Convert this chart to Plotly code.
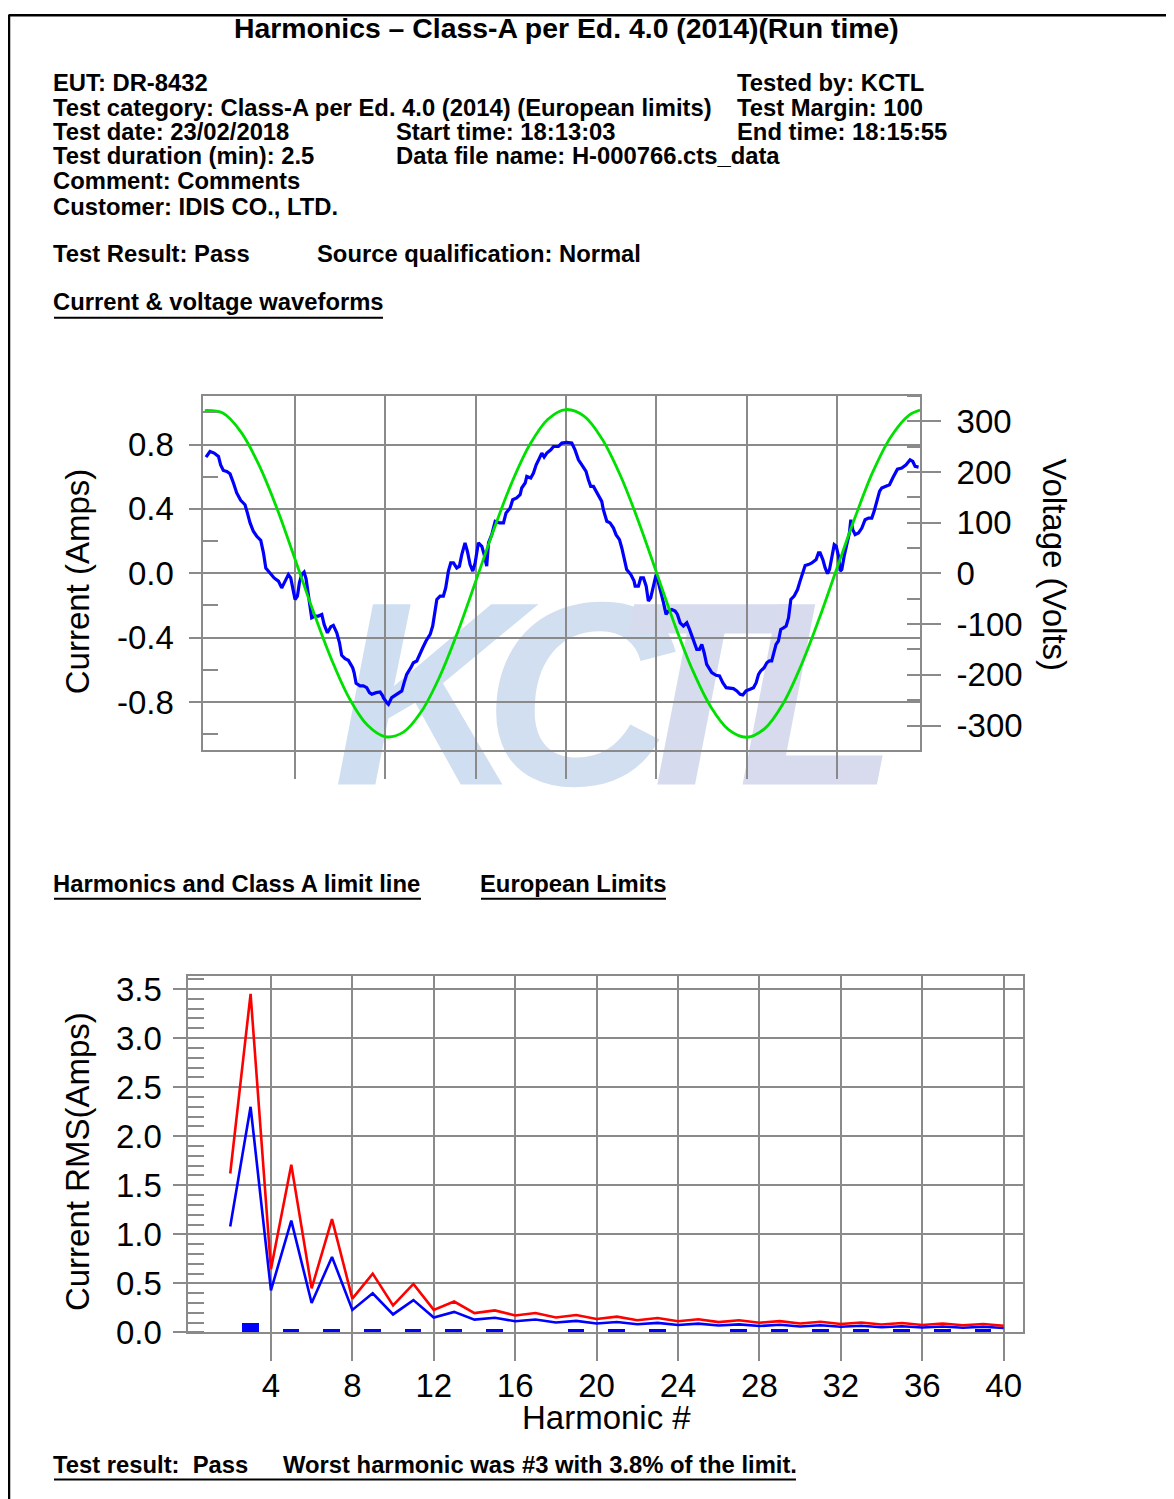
import plotly.graph_objects as go

# Page is 1174x1499. The html body adds an 8px margin; the captured picture shows the
# figure with a small vertical offset/scale, compensated in the helpers below.
PAGE_OFF_X = 8
Y_OFF, Y_SCALE = 11.6, 0.9854
W = 1174 - 2 * PAGE_OFF_X
H = 1510

# ---------------- data: current & voltage waveforms ----------------
current_t_ms = [
    0.07, 0.29, 0.52, 0.76, 0.88, 1.03, 1.22, 1.40, 1.59, 1.77,
    1.99, 2.23, 2.36, 2.51, 2.69, 2.88, 3.10, 3.25, 3.38, 3.62,
    3.84, 4.08, 4.26, 4.45, 4.63, 4.76, 4.91, 5.00, 5.13, 5.24,
    5.37, 5.50, 5.61, 5.79, 5.92, 6.11, 6.29, 6.48, 6.61, 6.79,
    6.98, 7.12, 7.31, 7.46, 7.58, 7.77, 7.95, 8.19, 8.27, 8.38,
    8.60, 8.78, 8.97, 9.12, 9.25, 9.49, 9.71, 9.85,
    9.89, 10.08, 10.17, 10.35, 10.63, 10.91, 11.04, 11.18, 11.41, 11.55,
    11.74, 11.89, 12.07, 12.25, 12.48, 12.62, 12.75, 12.85, 13.03, 13.21,
    13.34, 13.49, 13.62, 13.77, 13.95, 14.10, 14.23, 14.41, 14.54, 14.69,
    14.84, 14.97, 15.15, 15.34, 15.47, 15.61, 15.71, 15.89, 16.08, 16.32,
    16.54, 16.68, 16.91, 17.05, 17.27, 17.46, 17.55, 17.74, 17.83, 18.05,
    18.20, 18.35, 18.53, 18.66, 18.79, 18.94, 19.16, 19.31, 19.58, 19.77,
    20.04, 20.32, 20.50, 20.69, 20.93, 21.11, 21.24, 21.37, 21.52, 21.67,
    21.85, 21.98, 22.07, 22.26, 22.44, 22.63, 22.77, 22.96, 23.09, 23.22,
    23.36, 23.59, 23.77, 23.83, 24.01, 24.14, 24.29, 24.44, 24.56, 24.69,
    24.84, 24.99, 25.12, 25.25, 25.40, 25.54, 25.67, 25.86, 26.04, 26.17,
    26.32, 26.50, 26.69, 26.84, 27.02, 27.24, 27.39, 27.52, 27.65, 27.79,
    28.07, 28.31, 28.50, 28.68, 28.87, 29.09, 29.27, 29.46, 29.64,
    29.79, 29.97, 30.19, 30.38, 30.53, 30.66, 30.78, 30.97, 31.12, 31.26,
    31.39, 31.52, 31.63, 31.76, 31.89, 32.04, 32.19, 32.32, 32.45, 32.63,
    32.82, 32.96, 33.11, 33.24, 33.42, 33.61, 33.85, 33.98, 34.07, 34.22,
    34.35, 34.48, 34.59, 34.72, 34.85, 34.96, 35.09, 35.18, 35.27, 35.40,
    35.55, 35.69, 35.77, 35.88, 36.01, 36.19, 36.38, 36.56, 36.75, 36.93,
    37.06, 37.21, 37.36, 37.48, 37.72, 37.91, 38.09, 38.22, 38.35, 38.59,
    38.83, 39.05, 39.20, 39.33, 39.52,
]
current_amps = [
    0.722, 0.757, 0.747, 0.726, 0.674, 0.639, 0.633, 0.618, 0.561, 0.499,
    0.453, 0.426, 0.375, 0.313, 0.261, 0.230, 0.205, 0.127, 0.033, 0.002,
    -0.029, -0.049, -0.091, -0.049, -0.008, -0.029, -0.122, -0.163, -0.142, -0.060,
    -0.008, 0.007, -0.035, -0.163, -0.277, -0.266, -0.266, -0.256, -0.318, -0.370,
    -0.332, -0.324, -0.370, -0.432, -0.510, -0.531, -0.541, -0.587, -0.618, -0.684,
    -0.700, -0.700, -0.711, -0.742, -0.752, -0.742, -0.738, -0.762,
    -0.773, -0.804, -0.814, -0.773, -0.752, -0.731, -0.680, -0.628, -0.587, -0.556,
    -0.545, -0.504, -0.463, -0.421, -0.380, -0.328, -0.215, -0.163, -0.142, -0.142,
    -0.091, 0.013, 0.064, 0.064, 0.033, 0.044, 0.116, 0.189, 0.137, 0.054,
    0.013, 0.064, 0.189, 0.168, 0.116, 0.044, 0.189, 0.240, 0.323, 0.313,
    0.313, 0.375, 0.406, 0.457, 0.468, 0.488, 0.530, 0.561, 0.602, 0.592,
    0.623, 0.674, 0.716, 0.747, 0.722, 0.747, 0.767, 0.788, 0.788, 0.809,
    0.813, 0.809, 0.767, 0.705, 0.664, 0.633, 0.581, 0.540, 0.540, 0.509,
    0.478, 0.447, 0.395, 0.323, 0.313, 0.281, 0.240, 0.209, 0.157, 0.085,
    0.023, -0.008, -0.049, -0.080, -0.080, -0.029, -0.029, -0.080, -0.173, -0.153,
    -0.080, -0.008, -0.060, -0.111, -0.184, -0.256, -0.235, -0.225, -0.235, -0.256,
    -0.308, -0.328, -0.308, -0.349, -0.401, -0.473, -0.473, -0.442, -0.494, -0.566,
    -0.618, -0.634, -0.638, -0.680, -0.711, -0.717, -0.717, -0.731, -0.752,
    -0.756, -0.731, -0.721, -0.711, -0.680, -0.628, -0.607, -0.587, -0.556, -0.545,
    -0.545, -0.494, -0.442, -0.421, -0.349, -0.339, -0.328, -0.277, -0.163, -0.142,
    -0.101, -0.049, 0.002, 0.048, 0.054, 0.064, 0.085, 0.127, 0.127, 0.085,
    0.033, -0.002, 0.023, 0.106, 0.178, 0.168, 0.106, 0.013, 0.023, 0.106,
    0.189, 0.250, 0.333, 0.271, 0.240, 0.250, 0.281, 0.333, 0.343, 0.343,
    0.385, 0.457, 0.509, 0.530, 0.540, 0.550, 0.592, 0.623, 0.647, 0.654,
    0.674, 0.705, 0.695, 0.664, 0.660,
]
voltage_t_ms = [0, 1, 2, 3, 4, 5, 6, 7, 8, 9, 10, 11, 12, 13, 14, 15, 16, 17, 18, 19,
                20, 21, 22, 23, 24, 25, 26, 27, 28, 29, 30, 31, 32, 33, 34, 35, 36, 37, 38, 39, 39.6]
voltage_volts = [321, 316, 279, 214, 128, 28, -74, -168, -246, -299,
                 -322, -313, -272, -204, -116, -16, 86, 179, 254, 304,
                 323, 310, 265, 194, 104, 3, -99, -190, -262, -308,
                 -323, -306, -258, -183, -91, 10, 110, 201, 270, 312, 322]
wave_time_grid_ms = [5, 10, 15, 20, 25, 30, 35]
current_tick_vals = [-0.8, -0.4, 0.0, 0.4, 0.8]
current_tick_text = ["-0.8", "-0.4", "0.0", "0.4", "0.8"]
voltage_tick_vals = [-300, -200, -100, 0, 100, 200, 300]
voltage_tick_text = ["-300", "-200", "-100", "0", "100", "200", "300"]

# ---------------- data: harmonics ----------------
harmonic_n = [2, 3, 4, 5, 6, 7, 8, 9, 10, 11, 12, 13, 14, 15, 16, 17, 18, 19, 20, 21,
              22, 23, 24, 25, 26, 27, 28, 29, 30, 31, 32, 33, 34, 35, 36, 37, 38, 39, 40]
class_a_limit_amps = [1.08, 2.30, 0.43, 1.14, 0.30, 0.77, 0.23, 0.40, 0.184, 0.33,
                      0.153, 0.21, 0.131, 0.15, 0.115, 0.132, 0.102, 0.118, 0.092, 0.107,
                      0.084, 0.098, 0.077, 0.090, 0.071, 0.083, 0.066, 0.078, 0.061, 0.073,
                      0.058, 0.068, 0.054, 0.064, 0.051, 0.061, 0.048, 0.058, 0.046]
limit_150pct_amps = [1.62, 3.45, 0.645, 1.71, 0.45, 1.155, 0.345, 0.60, 0.276, 0.495,
                     0.23, 0.315, 0.197, 0.225, 0.173, 0.199, 0.153, 0.178, 0.138, 0.161,
                     0.125, 0.147, 0.115, 0.135, 0.106, 0.125, 0.099, 0.116, 0.092, 0.109,
                     0.086, 0.102, 0.081, 0.096, 0.077, 0.091, 0.073, 0.087, 0.069]
measured_n = [3, 5, 7, 9, 11, 13, 15, 19, 21, 23, 27, 29, 31, 33, 35, 37, 39]
measured_amps = [0.095, 0.028, 0.028, 0.028, 0.028, 0.028, 0.028, 0.028, 0.028,
                 0.028, 0.028, 0.028, 0.028, 0.028, 0.028, 0.028, 0.028]
harm_tick_vals = [4, 8, 12, 16, 20, 24, 28, 32, 36, 40]

watermark_letters = ["K", "C", "T", "L"]


# ---------------- helpers (page pixels -> paper) ----------------
def px(x):
    return (x - PAGE_OFF_X) / W


def py(y):
    return 1 - ((y - Y_OFF) / Y_SCALE) / H


GRID = "#8a8a8a"
FONT = "Liberation Sans, Arial, sans-serif"
TICKFONT = dict(family=FONT, size=33, color="black")

fig = go.Figure()

fig.add_trace(go.Scatter(x=current_t_ms, y=current_amps, xaxis="x", yaxis="y",
                         mode="lines", line=dict(color="#0000ff", width=3.2),
                         showlegend=False, hoverinfo="skip"))
fig.add_trace(go.Scatter(x=voltage_t_ms, y=voltage_volts, xaxis="x", yaxis="y2",
                         mode="lines", line=dict(color="#00e000", width=2.8, shape="spline"),
                         showlegend=False, hoverinfo="skip"))

fig.add_trace(go.Bar(x=measured_n, y=measured_amps, xaxis="x2", yaxis="y3",
                     width=0.82, marker=dict(color="#0000ff", line=dict(width=0)),
                     showlegend=False, hoverinfo="skip"))
fig.add_trace(go.Scatter(x=harmonic_n, y=class_a_limit_amps, xaxis="x2", yaxis="y3",
                         mode="lines", line=dict(color="#0000ff", width=2.6),
                         showlegend=False, hoverinfo="skip"))
fig.add_trace(go.Scatter(x=harmonic_n, y=limit_150pct_amps, xaxis="x2", yaxis="y3",
                         mode="lines", line=dict(color="#ff0000", width=2.6),
                         showlegend=False, hoverinfo="skip"))

axis_common = dict(showline=True, linecolor=GRID, linewidth=1.6, mirror=True,
                   showgrid=True, gridcolor=GRID, gridwidth=1.6, zeroline=False,
                   tickcolor=GRID, tickwidth=1.6, tickfont=TICKFONT, fixedrange=True)

fig.update_layout(
    width=W, height=H, autosize=False,
    margin=dict(l=0, r=0, t=0, b=0),
    paper_bgcolor="white", plot_bgcolor="rgba(0,0,0,0)",
    showlegend=False, bargap=0,
    xaxis=dict(domain=[px(203.3), px(920)], range=[-0.08, 39.6], anchor="y",
               tickmode="array", tickvals=wave_time_grid_ms, showticklabels=False,
               ticks="outside", ticklen=27, **axis_common),
    yaxis=dict(domain=[py(749), py(394)], range=[-1.098, 1.104], anchor="x",
               tickmode="array", tickvals=current_tick_vals, ticktext=current_tick_text,
               ticks="outside", ticklen=13, ticklabelstandoff=8,
               minor=dict(tickmode="linear", tick0=0, dtick=0.2, ticks="inside",
                          ticklen=15, tickcolor=GRID, tickwidth=1.6, showgrid=False),
               **axis_common),
    yaxis2=dict(overlaying="y", side="right", anchor="x", range=[-348, 350.4],
                tickmode="array", tickvals=voltage_tick_vals, ticktext=voltage_tick_text,
                ticks="outside", ticklen=20, ticklabelstandoff=9,
                showgrid=False, showline=False,
                zeroline=False, tickcolor=GRID, tickwidth=1.6, tickfont=TICKFONT,
                minor=dict(tickmode="linear", tick0=0, dtick=50, ticks="inside",
                           ticklen=13, tickcolor=GRID, tickwidth=1.6, showgrid=False),
                fixedrange=True),
    xaxis2=dict(domain=[px(188.3), px(1023)], range=[-0.06, 40.95], anchor="y3",
                tickmode="array", tickvals=harm_tick_vals,
                ticks="outside", ticklen=27, ticklabelstandoff=-4, **axis_common),
    yaxis3=dict(domain=[py(1332.7), py(976)], range=[0, 3.628], anchor="x2",
                tickmode="linear", tick0=0, dtick=0.5, tickformat=".1f",
                ticks="outside", ticklen=14, ticklabelstandoff=4,
                minor=dict(tickmode="linear", tick0=0, dtick=0.1, ticks="inside",
                           ticklen=16, tickcolor=GRID, tickwidth=1.6, showgrid=False),
                **axis_common),
)


# ---------------- text ----------------
def txt(s, x, y, size=23.8, bold=True, anchor="left", angle=0):
    fig.add_annotation(text=("<b>%s</b>" % s) if bold else s,
                       x=px(x), y=py(y), xref="paper", yref="paper",
                       xanchor=anchor, yanchor="middle", showarrow=False,
                       textangle=angle, borderpad=0, borderwidth=0,
                       font=dict(family=FONT, size=size, color="black"))


txt("Harmonics \u2013 Class-A per Ed. 4.0 (2014)(Run time)", 566, 26, size=28.4, anchor="center")
txt("EUT: DR-8432", 53, 80)
txt("Tested by: KCTL", 737, 80)
txt("Test category: Class-A per Ed. 4.0 (2014) (European limits)", 53, 105)
txt("Test Margin: 100", 737, 105)
txt("Test date: 23/02/2018", 53, 129)
txt("Start time: 18:13:03", 396, 129)
txt("End time: 18:15:55", 737, 129)
txt("Test duration (min): 2.5", 53, 153)
txt("Data file name: H-000766.cts_data", 396, 153)
txt("Comment: Comments", 53, 178)
txt("Customer: IDIS CO., LTD.", 53, 204)
txt("Test Result: Pass", 53, 252)
txt("Source qualification: Normal", 317, 252)
txt("Current &amp; voltage waveforms", 53, 300)
txt("Harmonics and Class A limit line", 53, 883)
txt("European Limits", 480, 883)
txt("Test result:\u00a0 Pass", 53, 1465)
txt("Worst harmonic was #3 with 3.8% of the limit.", 283, 1465)

txt("Current (Amps)", 77, 580, size=33, bold=False, anchor="center", angle=-90)
txt("Voltage (Volts)", 1055, 563, size=33, bold=False, anchor="center", angle=90)
txt("Current RMS(Amps)", 77, 1162, size=33, bold=False, anchor="center", angle=-90)
txt("Harmonic #", 606, 1418, size=33, bold=False, anchor="center")

# underlines
for x0, x1, y in [(54, 383, 316), (54, 421, 898), (481, 666, 898), (54, 796, 1480)]:
    fig.add_shape(type="line", xref="paper", yref="paper",
                  x0=px(x0), x1=px(x1), y0=py(y), y1=py(y),
                  line=dict(color="black", width=2))

# page border (top and left)
fig.add_shape(type="line", xref="paper", yref="paper", x0=px(9), x1=1, y0=py(12.8), y1=py(12.8),
              line=dict(color="black", width=2.5))
fig.add_shape(type="line", xref="paper", yref="paper", x0=px(9), x1=px(9), y0=py(12), y1=0,
              line=dict(color="black", width=2.5))

# watermark, one letter at a time so the letters sit as in the original
wm_centers = [428, 578, 690, 818]
wm_colors = ["#cfdff1", "#d2dff0", "#d6dcee", "#d8dbee"]
for letter, cx, col in zip(watermark_letters, wm_centers, wm_colors):
    fig.add_shape(type="rect", xref="paper", yref="paper", layer="below",
                  x0=px(cx - 70), x1=px(cx + 70), y0=py(776), y1=py(560),
                  line=dict(width=0), fillcolor="rgba(0,0,0,0)",
                  label=dict(text="<b><i>%s</i></b>" % letter, textposition="middle center",
                             font=dict(family="Liberation Sans, Arial", size=262, color=col)))

fig.write_html("out.html")
